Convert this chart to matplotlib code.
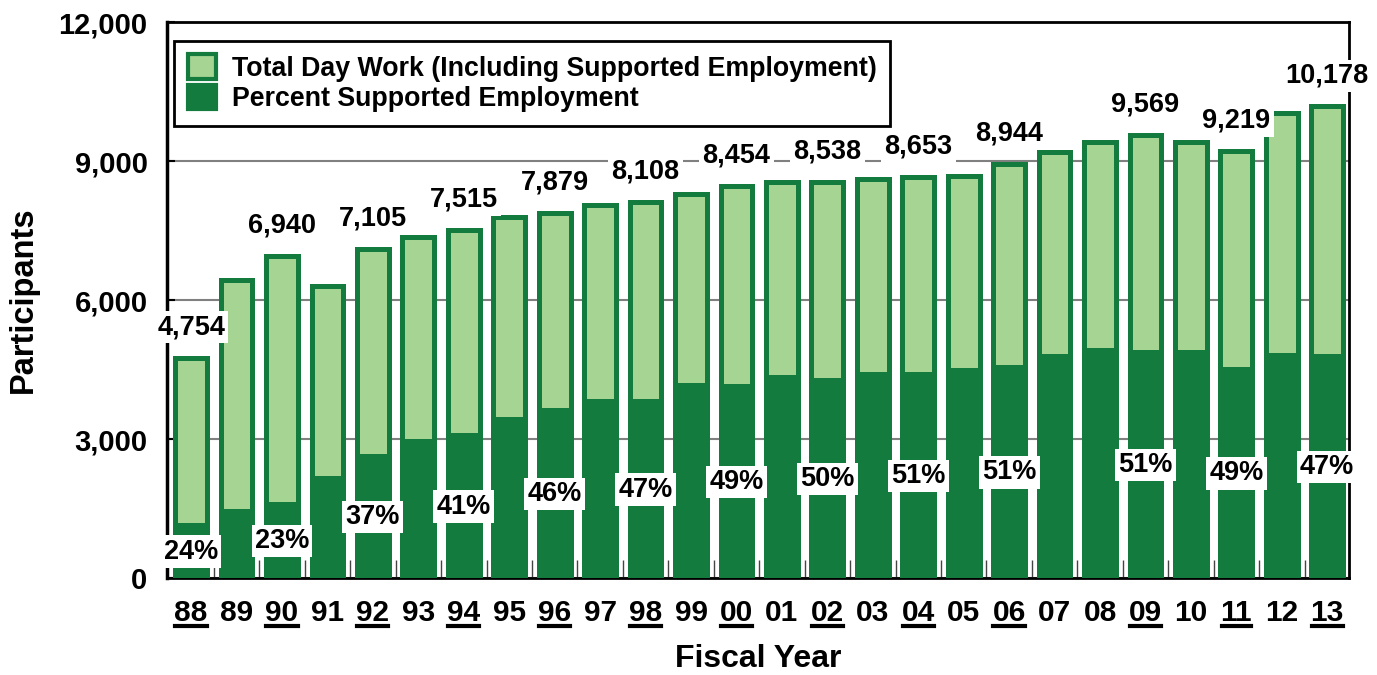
import matplotlib.pyplot as plt
import numpy as np
from matplotlib.lines import Line2D
from matplotlib.patches import Patch

plt.rcParams['font.family'] = ['Liberation Sans', 'DejaVu Sans']
plt.rcParams['font.weight'] = 'bold'

# fiscal years and participant counts
years = ['88', '89', '90', '91', '92', '93', '94', '95', '96', '97', '98', '99', '00',
         '01', '02', '03', '04', '05', '06', '07', '08', '09', '10', '11', '12', '13']
total = [4754, 6440, 6940, 6310, 7105, 7350, 7515, 7790, 7879, 8040, 8108, 8290, 8454,
         8540, 8538, 8610, 8653, 8680, 8944, 9190, 9420, 9569, 9420, 9219, 10040, 10178]
supported = [1141, 1440, 1596, 2150, 2629, 2950, 3081, 3440, 3624, 3810, 3811, 4160, 4142,
             4330, 4269, 4410, 4413, 4500, 4561, 4800, 4920, 4880, 4870, 4517, 4820, 4784]
# years that carry value labels (also underlined on the axis)
labeled = ['88', '90', '92', '94', '96', '98', '00', '02', '04', '06', '09', '11', '13']
pct = [24, 23, 37, 41, 46, 47, 49, 50, 51, 51, 51, 49, 47]

light = '#a6d492'
dark = '#137b3e'

fig = plt.figure(figsize=(13.77, 6.75), dpi=100)
ax = fig.add_axes([0.1213, 0.1437, 0.8584, 0.8237])

x = np.arange(len(years))
w = 0.70
ax.bar(x, total, width=w, color=light, edgecolor=dark, linewidth=3.6, zorder=2)
ax.bar(x, supported, width=w, color=dark, edgecolor=dark, linewidth=3.6, zorder=3)

for yr, p in zip(labeled, pct):
    i = years.index(yr)
    ax.annotate(f'{total[i]:,}', (x[i], total[i]), xytext=(0, 22), textcoords='offset points',
                ha='center', va='center', fontsize=19.5, fontweight='bold', zorder=6,
                annotation_clip=False,
                bbox=dict(boxstyle='square,pad=0.12', facecolor='white', edgecolor='none'))
    ax.text(x[i], supported[i] / 2, f'{p}%', ha='center', va='center', fontsize=19.5,
            fontweight='bold', zorder=6,
            bbox=dict(boxstyle='square,pad=0.12', facecolor='white', edgecolor='none'))

ax.set_xlim(-0.53, len(years) - 0.52)
ax.set_ylim(0, 12000)
ax.set_yticks([0, 3000, 6000, 9000, 12000])
ax.set_yticklabels([f'{v:,}' for v in [0, 3000, 6000, 9000, 12000]])
ax.set_xticks(x)
ax.set_xticklabels(years)
ax.set_xticks(x[:-1] + 0.5, minor=True)
ax.tick_params(axis='x', which='major', length=0, pad=15, labelsize=21.5)
ax.tick_params(axis='x', which='minor', direction='in', length=13, width=1, color='#444444')
ax.tick_params(axis='y', which='major', direction='in', length=6, width=1.5, pad=14, labelsize=21)
for lab in ax.get_xticklabels() + ax.get_yticklabels():
    lab.set_fontweight('bold')

ax.grid(axis='y', color='#808080', linewidth=1.5, zorder=0)
ax.set_axisbelow(True)
for s in ax.spines.values():
    s.set_linewidth(2)
    s.set_color('black')
ax.spines['left'].set_linewidth(2.5)

ax.set_xlabel('Fiscal Year', fontsize=23, fontweight='bold', labelpad=12)
ax.set_ylabel('Participants', fontsize=23.5, fontweight='bold', labelpad=14)

handles = [Patch(facecolor=light, edgecolor=dark, linewidth=3),
           Patch(facecolor=dark, edgecolor=dark, linewidth=3)]
leg = ax.legend(handles, ['Total Day Work (Including Supported Employment)',
                          'Percent Supported Employment'],
                loc='upper left', bbox_to_anchor=(0.006, 0.966), borderaxespad=0,
                fancybox=False, edgecolor='black', framealpha=1, fontsize=19.3,
                handlelength=1.05, handleheight=1.05, labelspacing=0.1, borderpad=0.5,
                handletextpad=0.6)
leg.get_frame().set_linewidth(2)
leg.set_zorder(7)
for t in leg.get_texts():
    t.set_fontweight('bold')

# underline the labeled years on the x axis
fig.canvas.draw()
r = fig.canvas.get_renderer()
inv = fig.transFigure.inverted()
for lab in ax.get_xticklabels():
    if lab.get_text() in labeled:
        bb = lab.get_window_extent(r)
        (x0, y0), (x1, _) = inv.transform([(bb.x0 + 1, bb.y0 + 1), (bb.x1 - 1, bb.y0 + 1)])
        fig.add_artist(Line2D([x0, x1], [y0, y0], color='black', linewidth=3,
                              transform=fig.transFigure))

fig.savefig('out.png', dpi=100)
